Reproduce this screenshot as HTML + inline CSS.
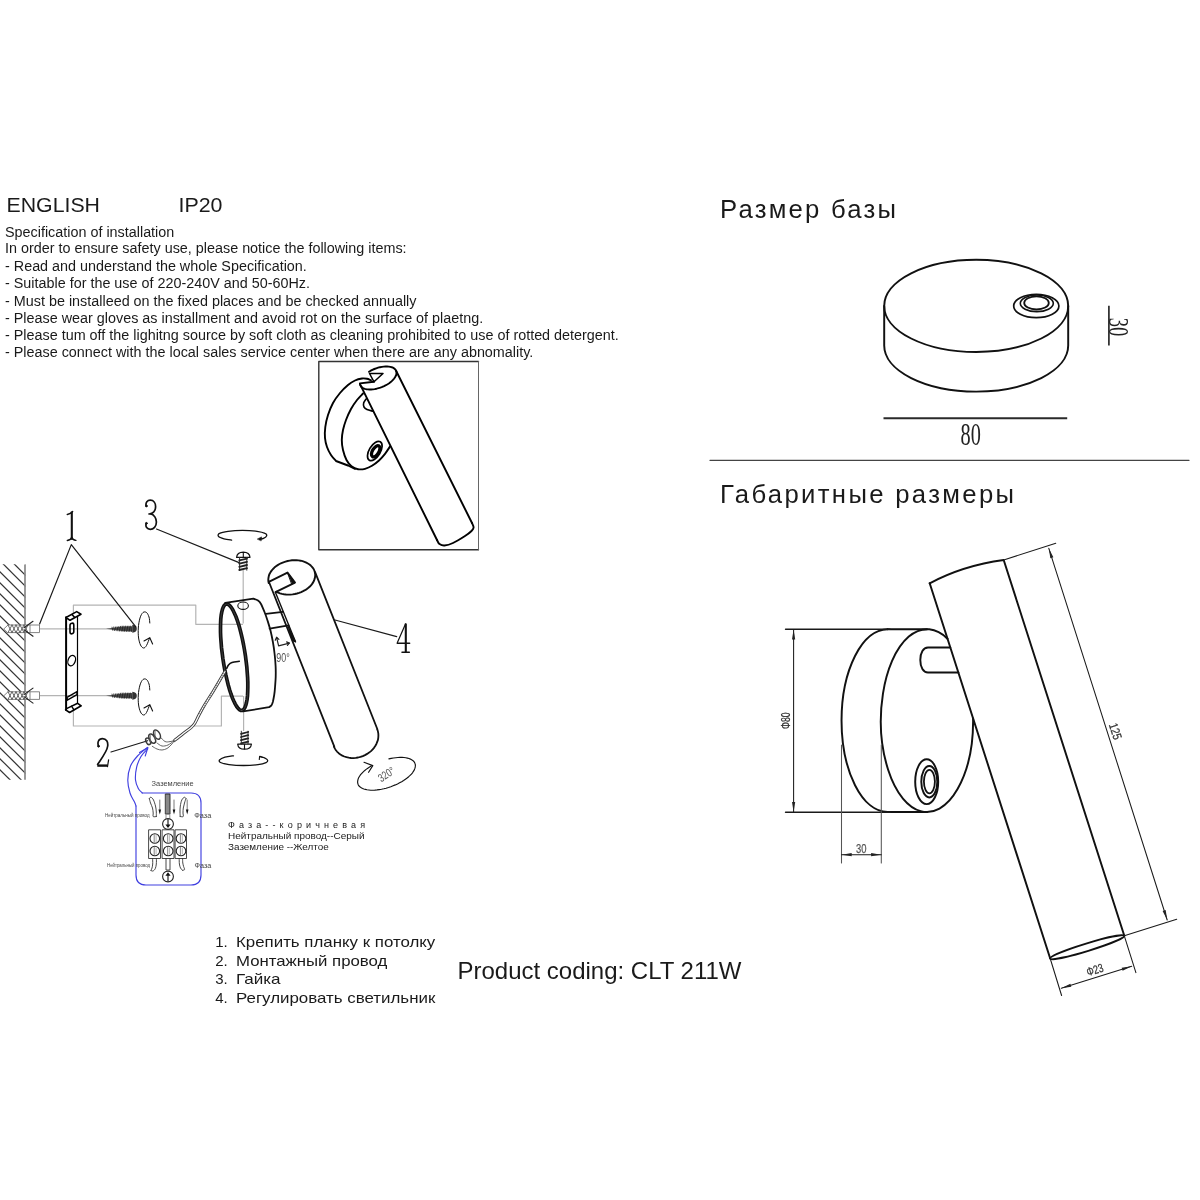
<!DOCTYPE html>
<html><head><meta charset="utf-8">
<style>
html,body{margin:0;padding:0;background:#fff;}
svg{display:block;}
text{font-family:"Liberation Sans",sans-serif;fill:#1a1a1a;}
.ser{font-family:"Liberation Serif",serif;}
</style></head><body>
<svg id="s" width="1200" height="1200" viewBox="0 0 1200 1200" style="opacity:0.9999;will-change:transform">
<rect width="1200" height="1200" fill="#fff"/>
<!-- TEXT -->
<g id="txt">
<text id="t_eng" x="6.5" y="212" font-size="20.4" textLength="93.5" lengthAdjust="spacingAndGlyphs">ENGLISH</text>
<text id="t_ip" x="178.5" y="212" font-size="20.4" textLength="44" lengthAdjust="spacingAndGlyphs">IP20</text>
<g font-size="14" lengthAdjust="spacingAndGlyphs">
<text id="l1" x="5" y="236.6" textLength="169.3" lengthAdjust="spacingAndGlyphs">Specification of installation</text>
<text id="l2" x="5" y="253.3" textLength="401.6" lengthAdjust="spacingAndGlyphs">In order to ensure safety use, please notice the following items:</text>
<text id="l3" x="5" y="270.8" textLength="301.8" lengthAdjust="spacingAndGlyphs">- Read and understand the whole Specification.</text>
<text id="l4" x="5" y="287.9" textLength="305" lengthAdjust="spacingAndGlyphs">- Suitable for the use of 220-240V and 50-60Hz.</text>
<text id="l5" x="5" y="305.7" textLength="411.5" lengthAdjust="spacingAndGlyphs">- Must be installeed on the fixed places and be checked annually</text>
<text id="l6" x="5" y="323.3" textLength="478.2" lengthAdjust="spacingAndGlyphs">- Please wear gloves as installment and avoid rot on the surface of plaetng.</text>
<text id="l7" x="5" y="339.7" textLength="613.8" lengthAdjust="spacingAndGlyphs">- Please tum off the lighitng source by soft cloth as cleaning prohibited to use of rotted detergent.</text>
<text id="l8" x="5" y="357.4" textLength="528.3" lengthAdjust="spacingAndGlyphs">- Please connect with the local sales service center when there are any abnomality.</text>
</g>
<text id="h1" x="720" y="217.8" font-size="25.7" textLength="176" lengthAdjust="spacing">Размер базы</text>
<text id="h2" x="720" y="502.7" font-size="25.7" textLength="294" lengthAdjust="spacing">Габаритные размеры</text>
<g font-size="15">
<text x="215.2" y="947.2">1.</text><text id="b1" x="236" y="947.2" textLength="199.3" lengthAdjust="spacingAndGlyphs">Крепить планку к потолку</text>
<text x="215.2" y="965.7">2.</text><text id="b2" x="236" y="965.7" textLength="151.3" lengthAdjust="spacingAndGlyphs">Монтажный провод</text>
<text x="215.2" y="984.2">3.</text><text id="b3" x="236" y="984.2" textLength="44.6" lengthAdjust="spacingAndGlyphs">Гайка</text>
<text x="215.2" y="1002.7">4.</text><text id="b4" x="236" y="1002.7" textLength="199.3" lengthAdjust="spacingAndGlyphs">Регулировать светильник</text>
</g>
<text id="pc" x="457.5" y="978.8" font-size="23.4" textLength="284" lengthAdjust="spacingAndGlyphs">Product coding: CLT 211W</text>
<g font-size="9" fill="#444" style="fill:#444">
<text id="w1" x="228" y="827.7" textLength="137" lengthAdjust="spacing">Фаза--коричневая</text>
<text id="w2" x="228" y="839" textLength="136.5" lengthAdjust="spacingAndGlyphs">Нейтральный провод--Серый</text>
<text id="w3" x="228" y="850.2" textLength="100.7" lengthAdjust="spacingAndGlyphs">Заземление --Желтое</text>
</g>
</g>
<!-- DRAWINGS -->
<g id="right" fill="none" stroke="#111" stroke-linecap="round" stroke-linejoin="round">
<!-- separator -->
<line x1="710" y1="460.3" x2="1189" y2="460.3" stroke="#444" stroke-width="1.3"/>
<!-- base top drawing -->
<g stroke-width="1.95">
<ellipse cx="976.2" cy="305.9" rx="92.0" ry="46.1"/>
<path d="M884.2 306 V345.5 A92.0 46.1 0 0 0 1068.2 345.5 V306"/>
<ellipse cx="1036.3" cy="306" rx="22.6" ry="11.7" stroke-width="1.7"/>
<ellipse cx="1036.8" cy="303.3" rx="16.5" ry="8.3" stroke-width="1.6"/>
<ellipse cx="1036.5" cy="302.9" rx="12.3" ry="6.6" stroke-width="1.8"/>
</g>
<line x1="883.5" y1="418.2" x2="1067.2" y2="418.2" stroke-width="1.9" stroke="#2a2a2a" stroke-linecap="butt"/>
<line x1="1108.9" y1="305.8" x2="1108.9" y2="345.4" stroke-width="1.7" stroke="#2a2a2a" stroke-linecap="butt"/>
<text class="ser" x="970.7" y="444.7" font-size="31" text-anchor="middle" stroke="none" fill="#222" style="fill:#222" textLength="20.3" lengthAdjust="spacingAndGlyphs">80</text>
<text class="ser" transform="translate(1109.1,327) rotate(90)" font-size="29.4" text-anchor="middle" stroke="none" style="fill:#222" textLength="18.6" lengthAdjust="spacingAndGlyphs">30</text>
<!-- overall drawing -->
<g stroke-width="1.95">
<!-- base disc -->
<path d="M887.6 629.2 A46.1 91.4 0 0 0 887.6 812 H927"/>
<path d="M887.6 629.2 H927"/>
<path d="M947.5 638.7 A46.1 91.4 0 1 0 973.1 718.4"/>
<!-- stem -->
<path d="M950.3 647.5 H928 C923.3 647.5 920.3 652.5 920.3 660 C920.3 667.5 923.3 672.5 928 672.5 H958.4"/>
<!-- button -->
<ellipse cx="926.7" cy="781.7" rx="11.5" ry="22.4"/>
<ellipse cx="929.3" cy="781.7" rx="8" ry="15.7"/>
<ellipse cx="929.4" cy="781.6" rx="5.5" ry="11.8" stroke-width="1.8"/>
<!-- tube -->
<path d="M929.7 583.3 Q963 565.5 1003.7 560 L1124.3 935.8"/>
<path d="M929.7 583.3 L1050.2 958.5"/>
<ellipse cx="1087.2" cy="947.2" rx="38.8" ry="3.8" transform="rotate(-17.05 1087.2 947.2)"/>
</g>
<!-- dimensions -->
<g stroke-width="1.05" stroke="#1a1a1a">
<line x1="785.5" y1="629.2" x2="890" y2="629.2" stroke-width="1.4"/>
<line x1="785.5" y1="812.3" x2="890" y2="812.3" stroke-width="1.4"/>
<line x1="793.6" y1="629.5" x2="793.6" y2="812"/>
<line x1="841.5" y1="745" x2="841.5" y2="863" stroke="#555"/>
<line x1="881.3" y1="745" x2="881.3" y2="863" stroke="#555"/>
<line x1="841.5" y1="854.7" x2="881.3" y2="854.7"/>
<line x1="1003.7" y1="560" x2="1055.8" y2="543.3"/>
<line x1="1124.3" y1="935.8" x2="1176.7" y2="919.2"/>
<line x1="1048.8" y1="548.3" x2="1167.2" y2="920"/>
<line x1="1050.2" y1="958.5" x2="1061.6" y2="995.5"/>
<line x1="1124.3" y1="935.8" x2="1135.9" y2="972.6"/>
<line x1="1061.3" y1="988.3" x2="1131.7" y2="966.3"/>
</g>
<g fill="#222" stroke="none">
<path d="M793.6 629.5 l-1.6 10 h3.2z"/>
<path d="M793.6 812 l-1.6 -10 h3.2z"/>
<path d="M841.7 854.7 l10 -1.6 v3.2z"/>
<path d="M881.1 854.7 l-10 -1.6 v3.2z"/>
<path d="M0 0 l-1.6 10 h3.2z" transform="translate(1048.8,548.3) rotate(-17.7)"/>
<path d="M0 0 l-1.6 -10 h3.2z" transform="translate(1167.2,920) rotate(-17.7)"/>
<path d="M0 0 l10 -1.6 v3.2z" transform="translate(1061.3,988.3) rotate(-17.4)"/>
<path d="M0 0 l-10 -1.6 v3.2z" transform="translate(1131.7,966.3) rotate(-17.4)"/>
</g>
<g stroke="#333" stroke-width="0.25" style="fill:#333">
<text transform="translate(789.8,720.7) rotate(-90)" font-size="12" text-anchor="middle" style="fill:#333" textLength="16.5" lengthAdjust="spacingAndGlyphs">Φ80</text>
<text x="861.2" y="852.6" font-size="13" text-anchor="middle" stroke="#555" style="fill:#555" textLength="10.5" lengthAdjust="spacingAndGlyphs">30</text>
<text transform="translate(1111.3,732.6) rotate(72.3)" font-size="12.5" text-anchor="middle" style="fill:#333" textLength="16.5" lengthAdjust="spacingAndGlyphs">125</text>
<text transform="translate(1096.2,973.8) rotate(-17.4)" font-size="12" text-anchor="middle" style="fill:#333" textLength="17" lengthAdjust="spacingAndGlyphs">Φ23</text>
</g>
</g>
<!-- LEFT -->
<g id="left" fill="none" stroke="#111" stroke-linecap="round" stroke-linejoin="round">
<clipPath id="wc"><rect x="0" y="564.3" width="25.4" height="215.5"/></clipPath>
<g clip-path="url(#wc)" stroke="#333" stroke-width="1.2" stroke-linecap="butt"><line x1="-2" y1="525.80" x2="26" y2="553.80"/><line x1="-2" y1="536.80" x2="26" y2="564.80"/><line x1="-2" y1="547.80" x2="26" y2="575.80"/><line x1="-2" y1="558.80" x2="26" y2="586.80"/><line x1="-2" y1="569.80" x2="26" y2="597.80"/><line x1="-2" y1="580.80" x2="26" y2="608.80"/><line x1="-2" y1="591.80" x2="26" y2="619.80"/><line x1="-2" y1="602.80" x2="26" y2="630.80"/><line x1="-2" y1="613.80" x2="26" y2="641.80"/><line x1="-2" y1="624.80" x2="26" y2="652.80"/><line x1="-2" y1="635.80" x2="26" y2="663.80"/><line x1="-2" y1="646.80" x2="26" y2="674.80"/><line x1="-2" y1="657.80" x2="26" y2="685.80"/><line x1="-2" y1="668.80" x2="26" y2="696.80"/><line x1="-2" y1="679.80" x2="26" y2="707.80"/><line x1="-2" y1="690.80" x2="26" y2="718.80"/><line x1="-2" y1="701.80" x2="26" y2="729.80"/><line x1="-2" y1="712.80" x2="26" y2="740.80"/><line x1="-2" y1="723.80" x2="26" y2="751.80"/><line x1="-2" y1="734.80" x2="26" y2="762.80"/><line x1="-2" y1="745.80" x2="26" y2="773.80"/><line x1="-2" y1="756.80" x2="26" y2="784.80"/><line x1="-2" y1="767.80" x2="26" y2="795.80"/><line x1="-2" y1="778.80" x2="26" y2="806.80"/><line x1="-2" y1="789.80" x2="26" y2="817.80"/></g>
<line x1="25" y1="564.7" x2="25" y2="779.8" stroke="#888" stroke-width="1.7" stroke-linecap="butt"/>
<g stroke="#b4b4b4" stroke-width="1.2" stroke-linecap="butt">
<path d="M73.4 613 V605.2 H195.8 V624.3 H243"/>
<path d="M73.4 709 V726 H221.4 V696.2 H243"/>
<line x1="40" y1="628.9" x2="132" y2="628.9"/>
<line x1="40" y1="695.6" x2="132" y2="695.6"/>
<line x1="243.2" y1="570" x2="243.2" y2="623.5"/>
<line x1="243.6" y1="696" x2="243.6" y2="731"/>
</g>
<g stroke="#777" stroke-width="0.9"><path d="M4 628.8 L8 625.0 H39.5 V632.6 H8 Z" fill="#fff"/><path d="M8 625.0 l4 7.6 M8 632.6 l4 -7.6" stroke="#555"/><path d="M12 625.0 l4 7.6 M12 632.6 l4 -7.6" stroke="#555"/><path d="M16 625.0 l4 7.6 M16 632.6 l4 -7.6" stroke="#555"/><path d="M20 625.0 l4 7.6 M20 632.6 l4 -7.6" stroke="#555"/><path d="M24 625.0 l4 7.6 M24 632.6 l4 -7.6" stroke="#555"/><line x1="30" y1="625.0" x2="30" y2="632.6"/></g><path d="M24 627.8 L33 621.3 M24 629.8 L33 636.3" stroke="#222" stroke-width="1.1"/>
<g stroke="#777" stroke-width="0.9"><path d="M4 695.6 L8 691.8 H39.5 V699.4 H8 Z" fill="#fff"/><path d="M8 691.8 l4 7.6 M8 699.4 l4 -7.6" stroke="#555"/><path d="M12 691.8 l4 7.6 M12 699.4 l4 -7.6" stroke="#555"/><path d="M16 691.8 l4 7.6 M16 699.4 l4 -7.6" stroke="#555"/><path d="M20 691.8 l4 7.6 M20 699.4 l4 -7.6" stroke="#555"/><path d="M24 691.8 l4 7.6 M24 699.4 l4 -7.6" stroke="#555"/><line x1="30" y1="691.8" x2="30" y2="699.4"/></g><path d="M24 694.6 L33 688.1 M24 696.6 L33 703.1" stroke="#222" stroke-width="1.1"/>
<g stroke="#000" stroke-width="1.5">
<path d="M66.1 617.3 V710" stroke-width="2"/>
<path d="M77.5 616.5 V703.2" stroke-width="1.2"/>
<path d="M66 617.5 L76.7 611.6 L81 614.2 L70 620.3 Z" stroke-width="1.6"/>
<path d="M72 614.5 L74.5 617.2" stroke-width="1.6"/>
<rect x="70" y="623.2" width="3.8" height="10.6" rx="1.9" transform="skewY(-8) translate(0,10.1)" stroke-width="1.6"/>
<ellipse cx="71.7" cy="660.6" rx="3.6" ry="5.4" transform="rotate(20 71.7 660.6)" stroke-width="1.3"/>
<path d="M67 697.3 L77 691.7 V694.7 L67.3 700.2 Z" stroke-width="1.5"/>
<path d="M65.6 709.8 L69.6 712.5 L81.2 705.8 L77.7 703.3 L66.5 708.6" stroke-width="1.6"/>
<path d="M71.5 706.2 L74 709.8" stroke-width="1.4"/>
</g>
<g stroke="none" fill="#333"><path d="M106 628.8 L122 626.5 L132.5 626.2 V631.4 L122 631.1 Z" fill="#555"/><path d="M132.3 624.8 Q137 625.3 136.8 628.8 Q137 632.3 132.3 632.8 Z" fill="#333"/></g><g stroke="#111" stroke-width="0.7"><line x1="112.0" y1="627.2" x2="112.8" y2="630.4"/><line x1="113.7" y1="627.0" x2="114.5" y2="630.6"/><line x1="115.4" y1="626.9" x2="116.2" y2="630.7"/><line x1="117.1" y1="626.7" x2="117.9" y2="630.9"/><line x1="118.8" y1="626.5" x2="119.6" y2="631.1"/><line x1="120.5" y1="626.3" x2="121.3" y2="631.2"/><line x1="122.2" y1="626.1" x2="123.0" y2="631.5"/><line x1="123.9" y1="626.1" x2="124.7" y2="631.5"/><line x1="125.6" y1="626.1" x2="126.4" y2="631.5"/><line x1="127.3" y1="626.1" x2="128.1" y2="631.5"/><line x1="129.0" y1="626.1" x2="129.8" y2="631.5"/><line x1="130.7" y1="626.1" x2="131.5" y2="631.5"/></g>
<g stroke="none" fill="#333"><path d="M106 695.7 L122 693.4 L132.5 693.1 V698.3 L122 698.0 Z" fill="#555"/><path d="M132.3 691.7 Q137 692.2 136.8 695.7 Q137 699.2 132.3 699.7 Z" fill="#333"/></g><g stroke="#111" stroke-width="0.7"><line x1="112.0" y1="694.1" x2="112.8" y2="697.3"/><line x1="113.7" y1="693.9" x2="114.5" y2="697.5"/><line x1="115.4" y1="693.8" x2="116.2" y2="697.6"/><line x1="117.1" y1="693.6" x2="117.9" y2="697.8"/><line x1="118.8" y1="693.4" x2="119.6" y2="698.0"/><line x1="120.5" y1="693.2" x2="121.3" y2="698.2"/><line x1="122.2" y1="693.0" x2="123.0" y2="698.4"/><line x1="123.9" y1="693.0" x2="124.7" y2="698.4"/><line x1="125.6" y1="693.0" x2="126.4" y2="698.4"/><line x1="127.3" y1="693.0" x2="128.1" y2="698.4"/><line x1="129.0" y1="693.0" x2="129.8" y2="698.4"/><line x1="130.7" y1="693.0" x2="131.5" y2="698.4"/></g>
<path d="M149.8 623.0 C149.7 622.0 149.6 618.8 149.0 617.0 C148.4 615.2 147.5 613.2 146.5 612.5 C145.5 611.8 144.1 611.6 143.0 612.5 C141.9 613.4 140.8 615.4 140.0 618.0 C139.2 620.6 138.5 624.7 138.3 628.0 C138.1 631.3 138.2 635.2 138.6 638.0 C139.0 640.8 139.7 643.3 140.5 645.0 C141.3 646.7 142.5 647.9 143.5 648.0 C144.5 648.1 145.5 647.2 146.5 645.5 C147.5 643.8 149.1 639.2 149.6 638.0" stroke-width="1"/><path d="M144 641.0 L149.8 637.8 L152.6 644.0" stroke-width="1.1"/>
<path d="M149.8 690.0 C149.7 689.0 149.6 685.8 149.0 684.0 C148.4 682.2 147.5 680.2 146.5 679.5 C145.5 678.8 144.1 678.6 143.0 679.5 C141.9 680.4 140.8 682.4 140.0 685.0 C139.2 687.6 138.5 691.7 138.3 695.0 C138.1 698.3 138.2 702.2 138.6 705.0 C139.0 707.8 139.7 710.3 140.5 712.0 C141.3 713.7 142.5 714.9 143.5 715.0 C144.5 715.1 145.5 714.2 146.5 712.5 C147.5 710.8 149.1 706.2 149.6 705.0" stroke-width="1"/><path d="M144 708.0 L149.8 704.8 L152.6 711.0" stroke-width="1.1"/>
<g stroke="#1a1a1a" stroke-width="1.2">
<path d="M39.6 624 L71.3 544.6 L135.8 626.8"/>
<line x1="156.5" y1="529" x2="239.1" y2="562.6"/>
<line x1="111" y1="752" x2="147.7" y2="740.7"/>
<line x1="335" y1="620" x2="396.7" y2="636.7"/>
</g>
<g stroke="#111" fill="none"><path d="M71.8 511.6 V539.8" stroke-width="2.1" stroke-linecap="butt"/><path d="M67.3 514.4 Q70.6 514 72.6 511.5" stroke-width="1.5"/><path d="M67.3 540.5 Q71 540 71.8 537.3 Q72.6 540 75.9 540.4" stroke-width="1.4"/></g>
<g stroke="#111" fill="none" stroke-width="1.7"><path d="M146.2 506 C145.2 502.3 147.6 500.1 150.2 500.1 C153.9 500.1 155.6 503.4 155.6 506.5 C155.6 510.5 153.2 513 150.4 513.7 C154.3 514.6 156.4 518.5 156.4 522 C156.4 526.5 153.6 529.3 150.3 529.3 C147 529.3 145.2 526.6 146.2 523.4"/><path d="M148.9 513.9 L151.6 513.7" stroke-width="1.5"/><circle cx="146.4" cy="506" r="0.9" fill="#111" stroke-width="0.8"/><circle cx="146.4" cy="523.3" r="0.9" fill="#111" stroke-width="0.8"/></g>
<g stroke="#111" fill="none" stroke-width="1.7"><path d="M98.6 746.4 C97 742.4 98.6 738.6 102.5 738.6 C106.4 738.6 108.2 742 107.7 746 C107.2 751 103 756.5 97.6 764.4"/><circle cx="98.5" cy="746.2" r="0.9" fill="#111" stroke-width="0.8"/><path d="M97.3 765.6 H107.6" stroke-width="2.4" stroke-linecap="butt"/><path d="M107.5 766.6 L108.6 759.9" stroke-width="1.2"/></g>
<g stroke="#111" fill="none"><path d="M405.8 623.6 V652" stroke-width="2.1" stroke-linecap="butt"/><path d="M405.6 623.8 L397.4 642.6" stroke-width="1.2"/><path d="M397.3 643.3 H409.6" stroke-width="1.6"/><path d="M402 652.3 H409.3" stroke-width="1.5"/></g>
<path d="M236.6 557.4 Q237 552.3 243.3 552.2 Q249.6 552.3 250 557.4 Z" stroke-width="1.2" fill="#fff"/><line x1="243.3" y1="552.5" x2="243.3" y2="557" stroke-width="1.1"/><path d="M239.6 557.6 V570.2 M246.8 557.6 V570.2" stroke-width="1" stroke="#333"/><path d="M239.3 560.4 L247 558.6" stroke-width="1.8" stroke="#222"/><path d="M239.3 563.6 L247 561.8" stroke-width="1.8" stroke="#222"/><path d="M239.3 566.8 L247 565.0" stroke-width="1.8" stroke="#222"/><path d="M239.3 570.0 L247 568.2" stroke-width="1.8" stroke="#222"/>
<path d="M237.7 744.2 Q238.2 749.2 244.5 749.2 Q250.9 749.2 251.4 744.2 Z" stroke-width="1.2" fill="#fff"/><line x1="244.5" y1="744.5" x2="244.5" y2="749" stroke-width="1.1"/><path d="M241.3 731.2 V744 M248 731.2 V744" stroke-width="1" stroke="#333"/><path d="M241 733.8 L248.2 732.0" stroke-width="1.8" stroke="#222"/><path d="M241 737.0 L248.2 735.2" stroke-width="1.8" stroke="#222"/><path d="M241 740.2 L248.2 738.4" stroke-width="1.8" stroke="#222"/><path d="M241 743.4 L248.2 741.6" stroke-width="1.8" stroke="#222"/>
<path d="M231.6 540.1 C230.3 539.9 226.2 539.4 224.0 538.8 C221.8 538.2 219.2 537.3 218.5 536.4 C217.8 535.5 217.9 534.2 219.5 533.4 C221.1 532.5 224.2 531.8 228.0 531.3 C231.8 530.8 237.7 530.4 242.5 530.4 C247.3 530.4 253.2 530.8 257.0 531.3 C260.8 531.8 263.4 532.5 265.0 533.3 C266.6 534.0 266.9 535.0 266.6 535.8 C266.4 536.6 264.7 537.7 263.5 538.3 C262.3 538.9 260.2 539.1 259.5 539.3" stroke-width="1.3"/>
<path d="M257.6 538.9 L261.5 536.9 L261.2 540.6 Z" fill="#111" stroke-width="0.6"/>
<path d="M233.5 755.8 C232.1 756.0 227.3 756.5 225.0 757.2 C222.7 757.9 220.4 758.9 219.7 759.8 C218.9 760.7 218.9 761.7 220.5 762.5 C222.1 763.3 225.2 764.1 229.0 764.6 C232.8 765.1 238.8 765.5 243.6 765.5 C248.4 765.5 254.3 765.1 258.0 764.6 C261.7 764.1 264.4 763.3 266.0 762.6 C267.6 761.9 267.9 761.0 267.6 760.2 C267.4 759.4 265.8 758.4 264.5 757.8 C263.2 757.2 260.8 756.7 260.0 756.5" stroke-width="1.3"/>
<path d="M259.3 759.5 L259.6 756.4 L262.8 757.5" stroke-width="1.1"/>
<path d="M241.9 710.4 L240.7 710.3 L239.4 709.6 L238.1 708.3 L236.7 706.5 L235.3 704.1 L233.9 701.2 L232.4 697.9 L231.0 694.0 L229.6 689.8 L228.3 685.2 L227.1 680.4 L225.9 675.2 L224.8 669.9 L223.8 664.4 L222.9 658.8 L222.2 653.3 L221.5 647.7 L221.1 642.3 L220.7 637.1 L220.5 632.0 L220.5 627.2 L220.6 622.8 L220.8 618.7 L221.2 615.1 L221.8 611.9 L222.5 609.2 L223.3 607.1 L224.2 605.5 L225.2 604.4 L226.4 604.0 L227.6 604.1 L228.9 604.8 L230.2 606.1 L231.6 607.9 L233.0 610.3 L234.4 613.2 L235.9 616.5 L237.3 620.4 L238.7 624.6 L240.0 629.2 L241.2 634.0 L242.4 639.2 L243.5 644.5 L244.5 650.0 L245.4 655.6 L246.1 661.1 L246.8 666.7 L247.2 672.1 L247.6 677.3 L247.8 682.4 L247.8 687.2 L247.7 691.6 L247.5 695.7 L247.1 699.3 L246.5 702.5 L245.8 705.2 L245.0 707.3 L244.1 708.9 L243.1 710.0 L241.9 710.4Z" stroke-width="3.7"/>
<path d="M241.9 710.4 L240.7 710.3 L239.4 709.6 L238.1 708.3 L236.7 706.5 L235.3 704.1 L233.9 701.2 L232.4 697.9 L231.0 694.0 L229.6 689.8 L228.3 685.2 L227.1 680.4 L225.9 675.2 L224.8 669.9 L223.8 664.4 L222.9 658.8 L222.2 653.3 L221.5 647.7 L221.1 642.3 L220.7 637.1 L220.5 632.0 L220.5 627.2 L220.6 622.8 L220.8 618.7 L221.2 615.1 L221.8 611.9 L222.5 609.2 L223.3 607.1 L224.2 605.5 L225.2 604.4 L226.4 604.0 L227.6 604.1 L228.9 604.8 L230.2 606.1 L231.6 607.9 L233.0 610.3 L234.4 613.2 L235.9 616.5 L237.3 620.4 L238.7 624.6 L240.0 629.2 L241.2 634.0 L242.4 639.2 L243.5 644.5 L244.5 650.0 L245.4 655.6 L246.1 661.1 L246.8 666.7 L247.2 672.1 L247.6 677.3 L247.8 682.4 L247.8 687.2 L247.7 691.6 L247.5 695.7 L247.1 699.3 L246.5 702.5 L245.8 705.2 L245.0 707.3 L244.1 708.9 L243.1 710.0 L241.9 710.4Z" stroke="#777" stroke-width="0.4"/>
<path d="M225.2 602.9 L253.4 598.6  C254.2 598.9 256.7 599.7 258.0 600.6 C259.3 601.5 259.9 602.1 261.0 604.0 C262.1 605.9 263.4 609.3 264.5 612.0 C265.6 614.7 266.5 617.2 267.5 620.4 C268.5 623.6 269.7 627.4 270.6 631.0 C271.5 634.6 272.2 638.2 272.9 642.0 C273.6 645.8 274.2 650.0 274.6 654.0 C275.1 658.0 275.4 662.1 275.6 665.9 C275.8 669.7 275.8 673.4 275.7 677.0 C275.6 680.6 275.2 684.6 275.0 687.6 C274.8 690.6 274.6 692.6 274.2 695.0 C273.8 697.4 273.3 700.0 272.9 701.7 C272.4 703.4 272.1 704.4 271.5 705.3 C270.9 706.2 269.4 706.9 269.0 707.2 L243.1 711.4" stroke-width="1.8"/>
<ellipse cx="243.1" cy="605.7" rx="5.3" ry="3.7" stroke-width="1.1"/>
<path d="M226.7 668.3 C227.0 667.8 227.6 666.0 228.5 665.0 C229.4 664.0 230.2 663.2 232.0 662.6 C233.8 662.0 238.1 661.5 239.3 661.3" stroke-width="1.6"/>
<path d="M224.9 671.5 C223.1 674.6 217.5 684.2 214.0 690.0 C210.5 695.8 206.5 701.8 204.0 706.0 C201.5 710.2 200.5 712.2 199.0 715.0 C197.5 717.8 196.3 720.9 195.0 723.0 C193.7 725.1 193.0 725.9 191.0 727.7 C189.0 729.5 185.8 731.6 183.0 733.7 C180.2 735.9 175.8 739.5 174.3 740.6" stroke="#3a3a3a" stroke-width="3.0"/>
<path d="M224.9 671.5 C223.1 674.6 217.5 684.2 214.0 690.0 C210.5 695.8 206.5 701.8 204.0 706.0 C201.5 710.2 200.5 712.2 199.0 715.0 C197.5 717.8 196.3 720.9 195.0 723.0 C193.7 725.1 193.0 725.9 191.0 727.7 C189.0 729.5 185.8 731.6 183.0 733.7 C180.2 735.9 175.8 739.5 174.3 740.6" stroke="#fff" stroke-width="1.25"/>
<path d="M224.9 671.5 C223.1 674.6 217.5 684.2 214.0 690.0 C210.5 695.8 206.5 701.8 204.0 706.0 C201.5 710.2 199.8 713.5 199.0 715.0" stroke="#777" stroke-width="1.25" stroke-dasharray="0.7 1.6" stroke-linecap="butt"/>
<path d="M160.3 737.0 C161.1 737.8 163.4 740.7 165.0 741.5 C166.6 742.3 168.4 741.8 170.0 741.6 C171.6 741.5 173.6 740.8 174.3 740.6" stroke="#555" stroke-width="0.9"/>
<path d="M157.0 743.0 C157.8 743.5 160.2 745.7 162.0 746.0 C163.8 746.3 166.1 745.8 168.0 745.0 C169.9 744.2 172.6 741.8 173.5 741.2" stroke="#555" stroke-width="0.9"/>
<path d="M152.3 746.3 C153.1 746.8 155.4 748.4 157.0 749.0 C158.6 749.6 160.3 750.1 162.0 750.0 C163.7 749.9 165.5 749.3 167.0 748.5 C168.5 747.7 169.8 746.2 171.0 745.0 C172.2 743.8 173.8 741.7 174.3 741.0" stroke="#555" stroke-width="0.9"/>
<g stroke="#3a3a3a" stroke-width="1.5">
<ellipse cx="148.2" cy="741.3" rx="2.1" ry="3.5" transform="rotate(-28 148.2 741.3)"/>
<ellipse cx="152.2" cy="738.6" rx="2.7" ry="5" transform="rotate(-28 152.2 738.6)"/>
<ellipse cx="157" cy="734.6" rx="2.9" ry="5" transform="rotate(-28 157 734.6)"/>
<path d="M150.2 735.5 L150.2 742 M155 731 L155 739" stroke="#666" stroke-width="1"/>
</g>
<path d="M265.8 613.9 L283 611.8 M269.6 628.6 L288.6 625.4" stroke-width="1.8"/>
<g stroke="#222" stroke-width="1.2"><path d="M276.6 637.3 L278.6 645.9 L289.3 643.1"/><path d="M275.3 640.2 L276.6 637.3 L278.9 639.4 M286.6 641.9 L289.3 643.1 L287.4 645.3"/></g>
<text x="276.3" y="662.4" font-size="12" textLength="13.5" lengthAdjust="spacingAndGlyphs" stroke="none" style="fill:#555">90°</text>
<path d="M268.7 583.0 L268.4 581.4 L268.3 579.9 L268.4 578.2 L268.7 576.6 L269.1 575.0 L269.8 573.4 L270.7 571.9 L271.8 570.4 L273.0 569.0 L274.4 567.6 L276.0 566.3 L277.7 565.1 L279.5 564.0 L281.4 563.1 L283.4 562.3 L285.5 561.6 L287.7 561.0 L289.8 560.6 L292.0 560.3 L294.2 560.2 L296.4 560.2 L298.5 560.4 L300.6 560.7 L302.6 561.2 L304.5 561.8 L306.3 562.6 L307.9 563.5 L309.5 564.5 L310.8 565.6 L312.0 566.8 L313.0 568.1 L313.9 569.5 L314.5 571.0 L314.9 572.5 L315.2 574.1 L315.2 575.7 L315.0 577.3 L314.6 578.9 L314.1 580.5 L313.3 582.1 L312.3 583.6 L311.2 585.1 L309.9 586.5 L308.4 587.8 L306.8 589.1 L305.0 590.2 L303.1 591.2 L301.2 592.1 L299.1 592.9 L297.0 593.5 L294.8 594.0 L292.6 594.4 L290.4 594.6 L288.3 594.6 L286.1 594.5 L284.0 594.3 L282.0 593.9 L280.0 593.3 L278.2 592.6 L276.4 591.8" stroke-width="1.9"/>
<path d="M269.3 581.6 L287.5 572.6 L295 582.6 L275.5 592.2" stroke-width="1.9"/>
<path d="M287.5 572.6 L295 582.6 L292 583.9 Z" fill="#111" stroke-width="1"/>
<path d="M268.8 581.5 L334.3 746.6" stroke-width="1.8"/>
<path d="M275.5 592.5 L295.4 641.5" stroke-width="1.4"/>
<path d="M288.2 626.5 L295.6 642 L292.6 640.8 Z" fill="#111" stroke-width="1.2"/>
<path d="M315.2 572.3 L377.3 729" stroke-width="1.8"/>
<path d="M377.3 729.4 L377.9 731.3 L378.3 733.4 L378.4 735.4 L378.3 737.5 L378.0 739.6 L377.3 741.7 L376.5 743.7 L375.4 745.7 L374.2 747.6 L372.7 749.4 L371.0 751.1 L369.1 752.6 L367.1 753.9 L365.0 755.1 L362.8 756.1 L360.5 756.9 L358.1 757.5 L355.8 757.9 L353.4 758.1 L351.0 758.0 L348.7 757.7 L346.5 757.2 L344.3 756.5 L342.3 755.6 L340.4 754.5 L338.7 753.2 L337.2 751.8 L335.9 750.2 L334.8 748.4 L333.9 746.6" stroke-width="1.8"/>
<path d="M388.9 758.9 L391.2 758.4 L393.5 758.0 L395.8 757.7 L397.9 757.5 L400.0 757.4 L402.1 757.4 L404.0 757.5 L405.8 757.8 L407.4 758.1 L409.0 758.5 L410.4 759.1 L411.6 759.7 L412.7 760.4 L413.6 761.2 L414.3 762.1 L414.8 763.1 L415.2 764.1 L415.4 765.2 L415.3 766.4 L415.1 767.6 L414.7 768.9 L414.2 770.1 L413.4 771.4 L412.5 772.8 L411.4 774.1 L410.1 775.4 L408.7 776.7 L407.1 778.0 L405.4 779.3 L403.6 780.5 L401.7 781.7 L399.6 782.8 L397.5 783.9 L395.3 784.9 L393.1 785.8 L390.8 786.7 L388.5 787.5 L386.1 788.2 L383.8 788.8 L381.5 789.3 L379.2 789.6 L377.0 789.9 L374.8 790.1 L372.7 790.2 L370.7 790.2 L368.8 790.0 L367.0 789.8 L365.4 789.4 L363.9 789.0 L362.5 788.5 L361.3 787.8 L360.2 787.1 L359.3 786.3 L358.6 785.4 L358.1 784.4 L357.8 783.3 L357.6 782.2 L357.7 781.1 L357.9 779.9 L358.3 778.6 L358.9 777.3 L359.7 776.0 L360.6 774.7 L361.8 773.4 L363.0 772.1 L364.5 770.7 L366.1 769.4 L367.8 768.2 L369.6 767.0 L371.5 765.8" stroke-width="1.15"/>
<path d="M364 762.3 L372.8 765.6 L368.6 772.3" stroke-width="1.15"/>
<text transform="translate(386.3,774.3) rotate(-33)" x="0" y="4" text-anchor="middle" font-size="11.5" textLength="17.5" lengthAdjust="spacingAndGlyphs" stroke="none" style="fill:#555">320°</text>
</g>
<!-- /LEFT -->
<!-- INSET -->
<g id="inset" fill="none" stroke="#000" stroke-linecap="round" stroke-linejoin="round">
<path d="M478.5 361.5 H318.8 V549.8 H478.5" stroke="#333" stroke-width="1.4"/>
<path d="M478.5 361.5 V549.8" stroke="#666" stroke-width="1"/>
<path d="M371.0 380.2 C370.3 380.0 368.5 379.1 367.0 378.8 C365.5 378.5 364.0 378.2 362.0 378.5 C360.0 378.8 357.3 379.4 355.0 380.5 C352.7 381.6 350.5 382.9 348.0 385.0 C345.5 387.1 342.5 390.0 340.0 393.0 C337.5 396.0 335.0 399.3 333.0 403.0 C331.0 406.7 329.3 411.0 328.0 415.0 C326.7 419.0 325.8 423.2 325.3 427.0 C324.8 430.8 324.7 434.7 325.0 438.0 C325.3 441.3 326.0 444.2 327.0 447.0 C328.0 449.8 329.5 452.7 331.0 455.0 C332.5 457.3 335.2 460.0 336.0 461.0 L348 465.5 L355 468.8" stroke-width="1.9"/>
<path d="M363.0 393.5 C362.0 394.6 359.0 397.4 357.0 400.0 C355.0 402.6 352.8 405.7 351.0 409.0 C349.2 412.3 347.3 416.5 346.0 420.0 C344.7 423.5 343.7 426.7 343.0 430.0 C342.3 433.3 341.8 436.7 341.8 440.0 C341.8 443.3 342.2 446.7 343.0 450.0 C343.8 453.3 345.1 457.3 346.5 460.0 C347.9 462.7 349.6 464.7 351.5 466.2 C353.4 467.7 355.8 468.8 358.0 469.2 C360.2 469.6 362.7 469.4 365.0 468.8 C367.3 468.2 369.7 467.2 372.0 465.8 C374.3 464.4 376.8 462.5 379.0 460.5 C381.2 458.5 383.1 456.2 385.0 453.8 C386.9 451.4 389.3 447.5 390.2 446.2" stroke-width="1.9"/>
<path d="M366.2 398.8 C365.8 399.5 364.1 401.4 363.7 402.8 C363.3 404.2 363.4 405.9 364.0 407.0 C364.6 408.1 365.5 408.8 367.0 409.5 C368.5 410.2 371.8 410.9 372.8 411.2" stroke-width="1.6"/>
<path d="M360.5 385.2 L437 540" stroke-width="1.9"/>
<path d="M396.2 371 L472 523" stroke-width="1.9"/>
<path d="M472.0 523.0 C472.3 523.8 473.7 526.2 473.6 527.5 C473.5 528.8 472.9 529.6 471.5 531.0 C470.1 532.4 468.1 534.0 465.0 536.0 C461.9 538.0 456.4 541.4 453.0 543.0 C449.6 544.6 446.8 545.3 444.5 545.5 C442.2 545.7 440.8 544.9 439.5 544.0 C438.2 543.1 437.4 540.7 437.0 540.0" stroke-width="1.9"/>
<path d="M369.0 371.7 L370.7 370.7 L372.4 369.8 L374.3 369.0 L376.2 368.3 L378.1 367.7 L380.0 367.2 L381.9 366.9 L383.7 366.6 L385.5 366.5 L387.2 366.5 L388.8 366.6 L390.3 366.9 L391.7 367.2 L392.9 367.7 L394.0 368.3 L394.8 369.0 L395.6 369.8 L396.1 370.7 L396.4 371.7 L396.5 372.7 L396.4 373.8 L396.2 375.0 L395.7 376.1 L395.0 377.3 L394.2 378.5 L393.2 379.7 L392.0 380.9 L390.7 382.1 L389.2 383.2 L387.6 384.2 L385.9 385.2 L384.1 386.1 L382.3 386.9 L380.4 387.6 L378.5 388.2 L376.6 388.7 L374.7 389.1 L372.9 389.4 L371.1 389.5 L369.4 389.5 L367.7 389.4 L366.2 389.2 L364.8 388.8 L363.6 388.3 L362.5 387.8 L361.6 387.1 L360.9 386.3 L360.4 385.4 L360.0 384.4 L359.9 383.4 L374 381.8" stroke-width="1.9"/>
<path d="M369.5 373.5 L383 373.5 L374 381.8 Z" stroke-width="1.5"/>
<ellipse cx="374.8" cy="451" rx="10.7" ry="5.6" transform="rotate(-59 374.8 451)" stroke-width="1.7"/>
<ellipse cx="375.7" cy="451.3" rx="6.3" ry="3.2" transform="rotate(-59 375.7 451.3)" stroke-width="3.3"/>
</g>
<!-- /INSET -->
<!-- WIRING -->
<g id="wiring" fill="none" stroke-linecap="round" stroke-linejoin="round">
<g stroke="#4040e0" stroke-width="1.15">
<path d="M147.7 748.9 C146.6 750.2 142.8 753.4 141.0 756.5 C139.2 759.6 137.5 763.4 136.6 767.3 C135.7 771.2 135.2 776.5 135.5 780.0 C135.8 783.5 137.2 786.3 138.3 788.5 C139.4 790.7 141.6 792.2 142.3 793.0"/>
<path d="M147.5 747.4 C145.8 748.8 140.3 752.9 137.5 756.0 C134.7 759.1 132.1 762.0 130.5 766.0 C128.9 770.0 127.9 775.5 127.8 780.0 C127.7 784.5 128.9 789.3 130.0 793.0 C131.1 796.7 133.5 799.8 134.5 802.0 C135.5 804.2 135.8 805.3 136.0 806.0"/>
<path d="M142.3 793 H191 Q201 793 201 803 V875 Q201 885 191 885 H146 Q136 885 136 875 V806"/>
<path d="M139.5 752.5 L147.9 747.5 L145.2 756" stroke-width="1.1"/>
</g>
<g stroke="#333" stroke-width="0.9">
<path d="M149.3 798.5 C149.6 798.3 150.3 797.0 151.0 797.3 C151.7 797.5 152.8 798.5 153.5 800.0 C154.2 801.5 155.0 804.0 155.5 806.0 C156.0 808.0 156.2 810.2 156.3 812.0 C156.4 813.8 156.3 815.8 156.3 816.5"/>
<path d="M149.3 798.5 C149.5 799.2 150.0 801.4 150.5 803.0 C151.0 804.6 152.1 806.3 152.5 808.0 C152.9 809.7 153.1 811.6 153.2 813.0 C153.3 814.4 152.7 815.9 153.2 816.5 C153.7 817.1 155.8 816.5 156.3 816.5"/>
<path d="M186.0 798.5 C185.7 798.3 185.0 797.0 184.3 797.3 C183.6 797.5 182.5 798.5 181.8 800.0 C181.1 801.5 180.6 804.0 180.3 806.0 C180.0 808.0 180.0 810.2 180.0 812.0 C180.0 813.8 180.2 815.8 180.2 816.5"/>
<path d="M186.0 798.5 C185.8 799.2 184.9 801.4 184.5 803.0 C184.1 804.6 183.6 806.3 183.3 808.0 C183.1 809.7 183.0 811.6 183.0 813.0 C183.0 814.4 183.7 815.9 183.2 816.5 C182.7 817.1 180.7 816.5 180.2 816.5"/>
<rect x="165.7" y="794" width="4.3" height="20" fill="#888" stroke="#222"/>
<path d="M166 814 V819 M169.8 814 V819" stroke="#888"/>
<path d="M159.8 800 V812" stroke="#555" stroke-width="0.8"/>
<path d="M159.8 814.5 l-1.3 -5 h2.6z" fill="#111" stroke="none"/>
<path d="M174.0 800 V812" stroke="#555" stroke-width="0.8"/>
<path d="M174.0 814.5 l-1.3 -5 h2.6z" fill="#111" stroke="none"/>
<path d="M187.2 800 V812" stroke="#555" stroke-width="0.8"/>
<path d="M187.2 814.5 l-1.3 -5 h2.6z" fill="#111" stroke="none"/>
<circle cx="168" cy="824" r="5.4" stroke="#222" stroke-width="1.1"/>
<path d="M168 819.5 V826" stroke="#222" stroke-width="1.2"/><path d="M168 828 l-2.6 -3.4 h5.2z" fill="#111" stroke="none"/>
<circle cx="168" cy="876.5" r="5.4" stroke="#222" stroke-width="1.1"/>
<path d="M168 881 V875" stroke="#222" stroke-width="1.2"/><path d="M168 872.3 l-2.6 3.4 h5.2z" fill="#111" stroke="none"/>
<rect x="149.0" y="829.8" width="11.5" height="28.7" stroke="#333" stroke-width="0.9"/>
<circle cx="154.8" cy="838.5" r="4.8" stroke="#222" stroke-width="1.1"/>
<path d="M154.2 834.8 v7.4" stroke="#666" stroke-width="0.8"/>
<path d="M156.1 835.5 v6" stroke="#888" stroke-width="0.6"/>
<circle cx="154.8" cy="851.0" r="4.8" stroke="#222" stroke-width="1.1"/>
<path d="M154.2 847.3 v7.4" stroke="#666" stroke-width="0.8"/>
<path d="M156.1 848.0 v6" stroke="#888" stroke-width="0.6"/>
<rect x="162.5" y="829.8" width="11.5" height="28.7" stroke="#333" stroke-width="0.9"/>
<circle cx="168.2" cy="838.5" r="4.8" stroke="#222" stroke-width="1.1"/>
<path d="M167.7 834.8 v7.4" stroke="#666" stroke-width="0.8"/>
<path d="M169.6 835.5 v6" stroke="#888" stroke-width="0.6"/>
<circle cx="168.2" cy="851.0" r="4.8" stroke="#222" stroke-width="1.1"/>
<path d="M167.7 847.3 v7.4" stroke="#666" stroke-width="0.8"/>
<path d="M169.6 848.0 v6" stroke="#888" stroke-width="0.6"/>
<rect x="175.5" y="829.8" width="11.0" height="28.7" stroke="#333" stroke-width="0.9"/>
<circle cx="181.0" cy="838.5" r="4.8" stroke="#222" stroke-width="1.1"/>
<path d="M180.4 834.8 v7.4" stroke="#666" stroke-width="0.8"/>
<path d="M182.3 835.5 v6" stroke="#888" stroke-width="0.6"/>
<circle cx="181.0" cy="851.0" r="4.8" stroke="#222" stroke-width="1.1"/>
<path d="M180.4 847.3 v7.4" stroke="#666" stroke-width="0.8"/>
<path d="M182.3 848.0 v6" stroke="#888" stroke-width="0.6"/>
<path d="M152.6 858.5 C152.6 859.4 152.8 862.4 152.7 864.0 C152.6 865.6 152.3 866.9 152.0 868.0 C151.7 869.1 151.2 870.1 151.0 870.5"/>
<path d="M156.4 858.5 C156.4 859.4 156.5 862.3 156.3 864.0 C156.1 865.7 155.9 867.3 155.3 868.5 C154.8 869.7 153.7 870.7 153.0 871.0 C152.3 871.3 151.3 870.6 151.0 870.5"/>
<path d="M166 858.5 V870 H170 V858.5"/>
<path d="M179.2 858.5 C179.2 859.4 179.2 862.4 179.4 864.0 C179.6 865.6 180.0 867.0 180.5 868.0 C181.0 869.0 182.2 869.9 182.5 870.3"/>
<path d="M182.6 858.5 C182.6 859.2 182.6 861.7 182.8 863.0 C183.0 864.3 183.3 865.4 183.6 866.5 C183.9 867.6 184.8 868.9 184.6 869.5 C184.4 870.1 182.8 870.2 182.5 870.3"/>
</g>
<text x="151.6" y="786.4" font-size="6.8" textLength="42" lengthAdjust="spacingAndGlyphs" stroke="none" style="fill:#444">Заземление</text>
<text x="105" y="816.6" font-size="4.6" textLength="44.5" lengthAdjust="spacingAndGlyphs" stroke="none" style="fill:#444" style="fill:#666">Нейтральный провод</text>
<text x="107" y="867.3" font-size="4.6" textLength="43" lengthAdjust="spacingAndGlyphs" stroke="none" style="fill:#444" style="fill:#666">Нейтральный провод</text>
<text x="194.3" y="818" font-size="6.6" textLength="17" lengthAdjust="spacingAndGlyphs" stroke="none" style="fill:#444">Фаза</text>
<text x="194.6" y="868" font-size="6.6" textLength="16.6" lengthAdjust="spacingAndGlyphs" stroke="none" style="fill:#444">Фаза</text>
</g>
<!-- /WIRING -->
</svg>
</body></html>
